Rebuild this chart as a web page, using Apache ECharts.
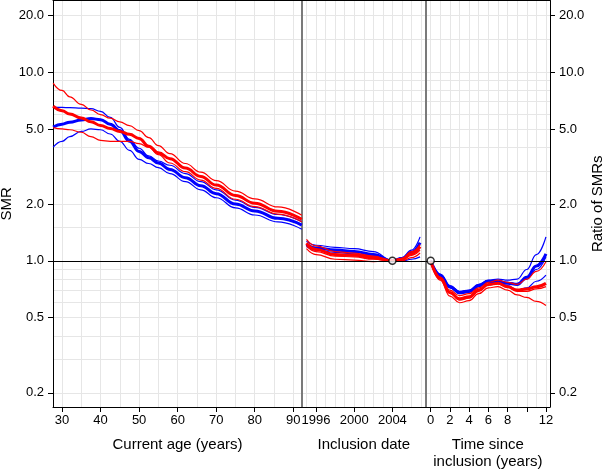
<!DOCTYPE html>
<html><head><meta charset="utf-8">
<script src="https://cdn.jsdelivr.net/npm/echarts@6/dist/echarts.min.js"></script>
<style>html,body{margin:0;padding:0;background:#fff}#c{width:603px;height:471px}</style>
</head><body><div id="c"></div>
<script>
// ---------- data ----------
const AGE = [27.7, 30, 32, 35, 37.5, 40, 42.5, 45, 47.5, 50, 52.5, 55, 58, 62, 66, 70, 75, 80, 86, 92.2];
const AGE_RED_UPPER = [8.75, 8.0, 7.4, 6.75, 6.3, 5.95, 5.7, 5.45, 5.2, 4.9, 4.5, 4.08, 3.70, 3.28, 2.95, 2.66, 2.34, 2.13, 1.93, 1.745];
const AGE_RED_MID   = [6.6, 6.25, 6.0, 5.72, 5.45, 5.22, 5.02, 4.85, 4.68, 4.45, 4.05, 3.74, 3.48, 3.1, 2.8, 2.52, 2.22, 2.02, 1.83, 1.66];
const AGE_RED_LOWER = [5.08, 5.0, 4.95, 4.8, 4.55, 4.35, 4.3, 4.3, 4.3, 4.18, 4.0, 3.65, 3.30, 2.97, 2.68, 2.42, 2.12, 1.94, 1.77, 1.61];
const AGE_BLUE_UPPER = [6.53, 6.5, 6.48, 6.45, 6.4, 6.2, 5.75, 5.1, 4.4, 3.95, 3.6, 3.38, 3.21, 2.9, 2.63, 2.38, 2.1, 1.92, 1.76, 1.61];
const AGE_BLUE_MID   = [5.12, 5.3, 5.43, 5.58, 5.67, 5.6, 5.3, 4.9, 4.3, 3.8, 3.52, 3.3, 3.05, 2.76, 2.5, 2.27, 2.0, 1.84, 1.68, 1.545];
const AGE_BLUE_LOWER = [4.0, 4.3, 4.55, 4.85, 5.0, 4.95, 4.7, 4.3, 3.85, 3.45, 3.28, 3.12, 2.90, 2.63, 2.38, 2.16, 1.91, 1.75, 1.61, 1.47];

const YEAR = [1995, 1996, 1998, 2000, 2002, 2004, 2005, 2006, 2006.9];
const DATE_BLUE_UPPER = [1.27, 1.21, 1.18, 1.16, 1.12, 1.0, 1.04, 1.14, 1.34];
const DATE_BLUE_MID   = [1.22, 1.17, 1.14, 1.12, 1.08, 1.0, 1.03, 1.11, 1.25];
const DATE_BLUE_LOWER = [1.19, 1.14, 1.11, 1.09, 1.05, 1.0, 1.0, 1.02, 1.05];
const DATE_RED_UPPER  = [1.30, 1.20, 1.12, 1.10, 1.06, 1.0, 1.03, 1.12, 1.22];
const DATE_RED_MID    = [1.24, 1.15, 1.08, 1.07, 1.04, 1.0, 1.02, 1.09, 1.19];
const DATE_RED_MID2   = [1.20, 1.12, 1.06, 1.05, 1.02, 1.0, 1.01, 1.07, 1.14];
const DATE_RED_LOWER  = [1.16, 1.08, 1.02, 1.01, 0.99, 1.0, 1.0, 1.04, 1.10];

const TIME = [0, 1, 2, 3, 4, 5, 6, 7, 8, 9, 10, 11, 12];
const TIME_BLUE_UPPER = [1, 0.85, 0.74, 0.69, 0.70, 0.75, 0.79, 0.80, 0.79, 0.80, 0.90, 1.08, 1.34];
const TIME_BLUE_MID   = [1, 0.84, 0.73, 0.68, 0.69, 0.74, 0.78, 0.78, 0.76, 0.75, 0.82, 0.94, 1.09];
const TIME_BLUE_MID2  = [1, 0.845, 0.735, 0.685, 0.695, 0.745, 0.785, 0.785, 0.77, 0.76, 0.80, 0.90, 1.05];
const TIME_BLUE_LOWER = [1, 0.83, 0.72, 0.67, 0.68, 0.73, 0.77, 0.77, 0.74, 0.70, 0.72, 0.78, 0.84];
const TIME_RED_UPPER  = [1, 0.82, 0.70, 0.655, 0.67, 0.72, 0.77, 0.79, 0.77, 0.75, 0.80, 0.88, 0.99];
const TIME_RED_MID    = [1, 0.81, 0.68, 0.63, 0.645, 0.70, 0.75, 0.76, 0.73, 0.70, 0.71, 0.73, 0.76];
const TIME_RED_MID2   = [1, 0.805, 0.675, 0.62, 0.635, 0.69, 0.745, 0.755, 0.725, 0.69, 0.69, 0.71, 0.73];
const TIME_RED_LOWER  = [1, 0.79, 0.65, 0.60, 0.615, 0.67, 0.72, 0.73, 0.70, 0.66, 0.64, 0.61, 0.58];

const REF_DATE = [[2004, 1]];
const REF_TIME = [[0, 1]];

const Y_TICKS = [0.2, 0.5, 1, 2, 5, 10, 20];
const Y_GRID = [0.2, 0.3, 0.4, 0.5, 0.6, 0.7, 0.8, 0.9, 1, 1.5, 2, 3, 4, 5, 6, 7, 8, 9, 10, 15, 20];
const AGE_TICKS = [30, 40, 50, 60, 70, 80, 90];
const AGE_GRID = [30, 35, 40, 45, 50, 55, 60, 65, 70, 75, 80, 85, 90];
const DATE_TICKS = [1996, 2000, 2004];
const DATE_GRID = [1995, 1996, 1997, 1998, 1999, 2000, 2001, 2002, 2003, 2004, 2005, 2006, 2007];
const TIME_TICKS = [0, 2, 4, 6, 8, 10, 12];
const TIME_LABELS = [0, 2, 4, 6, 8, 12];
const TIME_GRID = [0, 1, 2, 3, 4, 5, 6, 7, 8, 9, 10, 11, 12];

// ---------- chart ----------
const FONT = 'Liberation Sans, Arial, Helvetica, sans-serif';
const Y_MIN = 0.1682, Y_MAX = 23.95;
const RED = '#ff0000', BLUE = '#0000ff';
const GRIDC = '#e6e6e6';
const DIV = '#7a7a7a';
const txt = {color: '#000', fontSize: 13, fontFamily: FONT};
const nameTxt = {color: '#000', fontSize: 15, fontFamily: FONT};

function zip(xs, ys) { return xs.map((x, i) => [x, ys[i]]); }

function mainX(grid, min, max, ticks, labels, name) {
  return {
    type: 'value', gridIndex: grid, position: 'bottom', min, max,
    axisLine: {show: true, onZero: false, lineStyle: {color: '#000', width: 1}},
    axisTick: {show: true, length: 5, customValues: ticks, lineStyle: {color: '#000'}},
    axisLabel: {show: true, customValues: labels, margin: 7, ...txt, formatter: v => String(v)},
    splitLine: {show: false},
    name, nameLocation: 'middle', nameGap: 29,
    nameTextStyle: {...nameTxt, lineHeight: 17}
  };
}
function helperX(grid, min, max, gridVals) {
  return {
    type: 'value', gridIndex: grid, position: 'top', min, max,
    axisLine: {show: true, onZero: false, lineStyle: {color: '#000', width: 1}},
    axisTick: {show: false, customValues: gridVals},
    axisLabel: {show: false},
    splitLine: {show: true, lineStyle: {color: GRIDC, width: 1}}
  };
}
function labelY(grid, position, name, gap) {
  return {
    type: 'log', logBase: 10, gridIndex: grid, position, min: Y_MIN, max: Y_MAX,
    axisLine: {show: true, onZero: false, lineStyle: {color: '#000', width: 1}},
    axisTick: {show: true, length: 5, customValues: Y_TICKS, lineStyle: {color: '#000'}},
    axisLabel: {show: true, customValues: Y_TICKS, margin: 9, ...txt, formatter: v => Number(v).toFixed(1)},
    splitLine: {show: false},
    name, nameLocation: 'middle', nameGap: gap, nameRotate: 90, nameTextStyle: nameTxt
  };
}
function helperY(grid, position, lineShow, color, width) {
  return {
    type: 'log', logBase: 10, gridIndex: grid, position, min: Y_MIN, max: Y_MAX,
    axisLine: {show: lineShow, onZero: false, lineStyle: {color, width}},
    axisTick: {show: false, customValues: Y_GRID},
    axisLabel: {show: false},
    splitLine: {show: true, lineStyle: {color: GRIDC, width: 1}}
  };
}

function curve(xi, yi, xs, ys, color, width, withRef) {
  const s = {
    type: 'line', xAxisIndex: xi, yAxisIndex: yi, data: zip(xs, ys),
    showSymbol: false, symbol: 'none', smooth: 0.45, smoothMonotone: 'x',
    lineStyle: {color, width}, silent: true, z: 3
  };
  if (withRef) {
    s.markLine = {silent: true, symbol: 'none', label: {show: false},
      lineStyle: {color: '#000', width: 1, type: 'solid'}, data: [{yAxis: 1}], z: 4};
  }
  return s;
}

const TH = 3, TN = 1.2;
const series = [
  // panel 1: current age
  curve(0, 0, AGE, AGE_BLUE_UPPER, BLUE, TN, true),
  curve(0, 0, AGE, AGE_BLUE_LOWER, BLUE, TN),
  curve(0, 0, AGE, AGE_BLUE_MID, BLUE, TH),
  curve(0, 0, AGE, AGE_RED_UPPER, RED, TN),
  curve(0, 0, AGE, AGE_RED_LOWER, RED, TN),
  curve(0, 0, AGE, AGE_RED_MID, RED, TH),
  // panel 2: inclusion date
  curve(2, 2, YEAR, DATE_BLUE_UPPER, BLUE, TN, true),
  curve(2, 2, YEAR, DATE_BLUE_LOWER, BLUE, TN),
  curve(2, 2, YEAR, DATE_BLUE_MID, BLUE, TH),
  curve(2, 2, YEAR, DATE_RED_UPPER, RED, TN),
  curve(2, 2, YEAR, DATE_RED_LOWER, RED, TN),
  curve(2, 2, YEAR, DATE_RED_MID2, RED, TN),
  curve(2, 2, YEAR, DATE_RED_MID, RED, TH),
  // panel 3: time since inclusion
  curve(4, 3, TIME, TIME_BLUE_UPPER, BLUE, TN, true),
  curve(4, 3, TIME, TIME_BLUE_LOWER, BLUE, TN),
  curve(4, 3, TIME, TIME_BLUE_MID2, BLUE, TN),
  curve(4, 3, TIME, TIME_BLUE_MID, BLUE, TH),
  curve(4, 3, TIME, TIME_RED_UPPER, RED, TN),
  curve(4, 3, TIME, TIME_RED_LOWER, RED, TN),
  curve(4, 3, TIME, TIME_RED_MID2, RED, TN),
  curve(4, 3, TIME, TIME_RED_MID, RED, TH),
  {type: 'scatter', xAxisIndex: 2, yAxisIndex: 2, data: REF_DATE, symbol: 'circle', symbolSize: 7,
   itemStyle: {color: '#fff', borderColor: '#000', borderWidth: 1.5}, silent: true, z: 6},
  {type: 'scatter', xAxisIndex: 4, yAxisIndex: 3, data: REF_TIME, symbol: 'circle', symbolSize: 7,
   itemStyle: {color: '#fff', borderColor: '#000', borderWidth: 1.5}, silent: true, z: 6}
];

const gridBase = {top: 0.5, height: 406.5, containLabel: false, outerBoundsMode: 'none'};
const option = {
  animation: false,
  backgroundColor: '#fff',
  textStyle: {fontFamily: FONT},
  grid: [
    {...gridBase, left: 53, width: 249},
    {...gridBase, left: 302, width: 123.7},
    {...gridBase, left: 425.7, width: 124.3}
  ],
  xAxis: [
    mainX(0, 27.66, 92.26, AGE_TICKS, AGE_TICKS, 'Current age (years)'),
    helperX(0, 27.66, 92.26, AGE_GRID),
    mainX(1, 1994.53, 2007.49, DATE_TICKS, DATE_TICKS, 'Inclusion date'),
    helperX(1, 1994.53, 2007.49, DATE_GRID),
    mainX(2, -0.52, 12.42, TIME_TICKS, TIME_LABELS, 'Time since\ninclusion (years)'),
    helperX(2, -0.52, 12.42, TIME_GRID)
  ],
  yAxis: [
    labelY(0, 'left', 'SMR', 38.5),
    helperY(0, 'right', false, '#000', 1),
    helperY(1, 'left', true, DIV, 2),
    helperY(2, 'left', true, DIV, 2),
    labelY(2, 'right', 'Ratio of SMRs', 40)
  ],
  series
};

const chart = echarts.init(document.getElementById('c'), null, {renderer: 'canvas'});
chart.setOption(option);
</script>
</body></html>
